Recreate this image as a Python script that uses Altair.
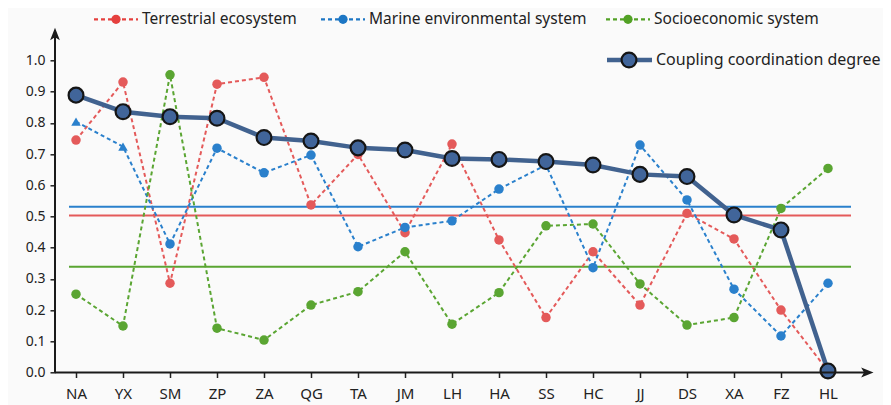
import altair as alt
import pandas as pd

regions = ["NA", "YX", "SM", "ZP", "ZA", "QG", "TA", "JM", "LH", "HA", "SS", "HC", "JJ", "DS", "XA", "FZ", "HL"]
terrestrial = [0.745, 0.931, 0.286, 0.924, 0.946, 0.537, 0.699, 0.448, 0.732, 0.425, 0.176, 0.387, 0.216, 0.510, 0.428, 0.200, 0.005]
marine = [0.804, 0.724, 0.412, 0.719, 0.640, 0.697, 0.403, 0.465, 0.486, 0.588, 0.665, 0.336, 0.729, 0.553, 0.267, 0.117, 0.286]
marine_shape = ["triangle-up", "triangle-up"] + ["circle"] * 15
socio = [0.251, 0.149, 0.954, 0.142, 0.104, 0.216, 0.259, 0.387, 0.155, 0.256, 0.470, 0.476, 0.284, 0.152, 0.176, 0.526, 0.654]
coupling = [0.889, 0.836, 0.820, 0.815, 0.753, 0.742, 0.720, 0.713, 0.686, 0.683, 0.676, 0.665, 0.635, 0.628, 0.505, 0.457, 0.005]

series_names = ["Terrestrial ecosystem", "Marine environmental system", "Socioeconomic system"]
series_colors = ["#e5403e", "#1c76c4", "#52a125"]
ref_values = [0.503, 0.531, 0.339]
ref_colors = ["#e45a5a", "#2a80cc", "#5aa532"]
coupling_name = "Coupling coordination degree"

rows = []
for name, vals, shapes in [
    (series_names[0], terrestrial, ["circle"] * 17),
    (series_names[1], marine, marine_shape),
    (series_names[2], socio, ["circle"] * 17),
]:
    for r, v, s in zip(regions, vals, shapes):
        rows.append({"region": r, "series": name, "value": v, "shp": s})
df = pd.DataFrame(rows)
cdf = pd.DataFrame({"region": regions, "value": coupling})
refdf = pd.DataFrame({"series": series_names, "value": ref_values})

W = 794
H = 343.2
FONT = "Noto Sans"

xenc = alt.X("region:N", sort=regions,
             scale=alt.Scale(type="point", padding=0.447),
             axis=alt.Axis(title=None, labelAngle=0, domain=False, tickSize=5,
                           tickColor="#222", tickWidth=1.5, labelFontSize=15,
                           labelColor="#222", labelPadding=9, labelFont=FONT))
yscale = alt.Scale(domain=[0, 1.1], nice=False)
yaxis = alt.Axis(title=None, values=[0, 0.1, 0.2, 0.3, 0.4, 0.5, 0.6, 0.7, 0.8, 0.9, 1.0],
                 format=".1f", domain=False, grid=False, tickSize=5,
                 tickColor="#222", tickWidth=1.5, labelFontSize=14,
                 labelColor="#222", labelPadding=5, labelFont=FONT)
yenc = alt.Y("value:Q", scale=yscale, axis=yaxis)

color_scale = alt.Scale(domain=series_names, range=series_colors)

refs = alt.Chart(refdf).mark_rule(strokeWidth=2).encode(
    y=yenc,
    x=alt.value(14), x2=alt.value(796),
    color=alt.Color("series:N", scale=alt.Scale(domain=series_names, range=ref_colors), legend=None),
)

lines = alt.Chart(df).mark_line(strokeWidth=2, strokeDash=[4, 3]).encode(
    x=xenc, y=yenc,
    color=alt.Color("series:N", scale=color_scale, legend=None),
    detail="series:N",
)
pts = alt.Chart(df).mark_point(filled=True, opacity=1, size=90).encode(
    x=xenc, y=yenc,
    color=alt.Color("series:N", scale=color_scale, legend=None),
    shape=alt.Shape("shp:N", scale=None),
)

cline = alt.Chart(cdf).mark_line(strokeWidth=4.5, color="#41628f").encode(x=xenc, y=yenc)
cpts = alt.Chart(cdf).mark_point(filled=True, opacity=1, size=220, color="#41659a",
                                 stroke="#151515", strokeWidth=2.2).encode(x=xenc, y=yenc)

one = alt.Data(values=[{"a": 1}])
arrow = "M0,-1 L0.75,0.9 L0,0.45 L-0.75,0.9 Z"
yaxis_line = alt.Chart(one).mark_rule(strokeWidth=2, color="#1a1a1a").encode(
    x=alt.value(0), y=alt.value(H), y2=alt.value(6))
xaxis_line = alt.Chart(one).mark_rule(strokeWidth=2, color="#1a1a1a").encode(
    x=alt.value(0), x2=alt.value(812), y=alt.value(H))
yarrow = alt.Chart(one).mark_point(shape=arrow, filled=True, color="#1a1a1a", size=170, opacity=1).encode(
    x=alt.value(0), y=alt.value(5))
xarrow = alt.Chart(one).mark_point(shape=arrow, filled=True, color="#1a1a1a", size=170, opacity=1, angle=90).encode(
    x=alt.value(812), y=alt.value(H))

# Legend (pixel positions relative to plot area)
leg = []
leg_row1_y = -10
leg_items = [(39, series_names[0], series_colors[0]),
             (266, series_names[1], series_colors[1]),
             (551, series_names[2], series_colors[2])]
for x0, name, col in leg_items:
    leg.append(alt.Chart(one).mark_rule(strokeWidth=2.2, strokeDash=[4, 3], color=col).encode(
        x=alt.value(x0), x2=alt.value(x0 + 44), y=alt.value(leg_row1_y)))
    leg.append(alt.Chart(one).mark_point(filled=True, opacity=1, size=85, color=col).encode(
        x=alt.value(x0 + 22), y=alt.value(leg_row1_y)))
    leg.append(alt.Chart(one).mark_text(align="left", baseline="middle", fontSize=15.5, font=FONT,
                                         color="#222").encode(
        x=alt.value(x0 + 48), y=alt.value(leg_row1_y), text=alt.value(name)))
row2_y = 30.7
leg.append(alt.Chart(one).mark_rule(strokeWidth=4.5, color="#41628f").encode(
    x=alt.value(552), x2=alt.value(597), y=alt.value(row2_y)))
leg.append(alt.Chart(one).mark_point(filled=True, opacity=1, size=220, color="#41659a",
                                     stroke="#151515", strokeWidth=2.2).encode(
    x=alt.value(574), y=alt.value(row2_y)))
leg.append(alt.Chart(one).mark_text(align="left", baseline="middle", fontSize=16, font=FONT,
                                     color="#222").encode(
    x=alt.value(601), y=alt.value(row2_y), text=alt.value(coupling_name)))

chart = alt.layer(refs, lines, pts, cline, cpts, yaxis_line, xaxis_line, yarrow, xarrow, *leg).properties(
    width=W, height=H,
    autosize=alt.AutoSizeParams(type="none"),
    padding={"left": 47, "top": 21.3, "right": 34, "bottom": 40},
    background="#fafafa",
).configure_view(stroke=None)

chart.save("out.html", embed_options={"renderer": "svg", "actions": False})
